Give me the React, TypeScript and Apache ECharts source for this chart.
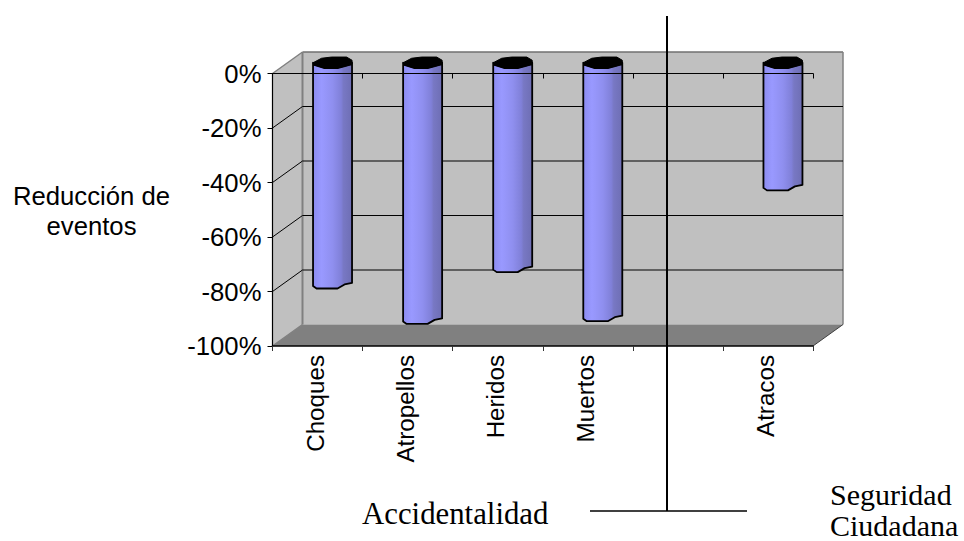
import React, { useEffect, useRef } from "react";
import * as echarts from "echarts";

const categories = ["Choques", "Atropellos", "Heridos", "Muertos", "", "Atracos"];
const reductions = [-81, -94, -75, -93, null, -45];
const yTicks = [0, -20, -40, -60, -80, -100];

// Oblique depth of the 3D box and of a cylinder's centre, in pixels
const DEPTH_X = 30;
const DEPTH_Y = -21.5;
const BAR_HALF = 19.5;

// Cap and base outlines of a cylinder, relative to its axis
const capOutline = [[-19.5, 0], [-11, -4.5], [-1, -5.7], [14, -5.7], [19.5, -2.5], [19.5, 1.5], [5, 5.3], [-8, 5.3], [-19, 2]];
const baseOutline = [[19.5, -0.5], [12, 1], [5, 5], [-16, 5], [-19.5, 2.5]];

function renderBox(params: any) {
  const cs = params.coordSys;
  const left = cs.x;
  const right = cs.x + cs.width;
  const top = cs.y;
  const y1 = cs.y + cs.height;
  const polygon = (points: number[][], fill: string) => ({
    type: "polygon",
    shape: { points },
    style: { fill, stroke: "none" },
  });
  const line = (a: number[], b: number[], stroke: string, lineWidth: number) => ({
    type: "line",
    shape: { x1: a[0], y1: a[1], x2: b[0], y2: b[1] },
    style: { stroke, lineWidth },
  });
  const bx = left + DEPTH_X;
  const br = right + DEPTH_X;
  const bt = top + DEPTH_Y;
  const bb = y1 + DEPTH_Y;
  return {
    type: "group",
    children: [
      polygon([[bx, bt], [br, bt], [br, bb], [bx, bb]], "#c0c0c0"),
      polygon([[left, top], [bx, bt], [bx, bb], [left, y1]], "#c0c0c0"),
      polygon([[left, y1], [bx, bb], [br, bb], [right, y1]], "#808080"),
      line([bx, bt], [br, bt], "#707070", 1.5),
      line([bx, bt], [bx, bb], "#808080", 2),
      line([br, bt], [br, bb], "#808080", 1.5),
      line([left, top], [bx, bt], "#808080", 1.5),
      line([left, y1], [bx, bb], "#808080", 1.5),
      line([right, y1], [br, bb], "#404040", 1),
    ],
  };
}

function renderGridLine(params: any, api: any) {
  const [, y] = api.coord([0, api.value(0)]);
  const cs = params.coordSys;
  const left = cs.x;
  const bx = left + DEPTH_X;
  const br = cs.x + cs.width + DEPTH_X;
  const by = y + DEPTH_Y;
  const inner = api.value(0) > -100 && api.value(0) < 0;
  return {
    type: "group",
    silent: true,
    children: inner
      ? [
          { type: "line", shape: { x1: left, y1: y, x2: bx, y2: by }, style: { stroke: "#000", lineWidth: 1 } },
          { type: "line", shape: { x1: bx, y1: by, x2: br, y2: by }, style: { stroke: "#000", lineWidth: 1 } },
        ]
      : [],
  };
}

function renderCylinder(_: any, api: any) {
  const value = api.value(1);
  if (value === null || value === undefined || isNaN(value)) return { type: "group", children: [] };
  const [cx, y0] = api.coord([api.value(0), 0]);
  const [, yv] = api.coord([api.value(0), value]);
  const x = cx + DEPTH_X / 2;
  const capY = y0 + DEPTH_Y / 2;
  const baseY = yv + DEPTH_Y / 2;
  const body = [
    [x - BAR_HALF, capY],
    ...capOutline.slice(5).map(([dx, dy]) => [x + dx, capY + dy]).reverse(),
    [x + BAR_HALF, capY],
    ...baseOutline.map(([dx, dy]) => [x + dx, baseY + dy]),
  ];
  return {
    type: "group",
    children: [
      {
        type: "polygon",
        shape: { points: body },
        style: {
          fill: new echarts.graphic.LinearGradient(0, 0, 1, 0, [
            { offset: 0, color: "#8c8cf0" },
            { offset: 0.22, color: "#9999ff" },
            { offset: 0.5, color: "#8f8fef" },
            { offset: 0.72, color: "#8080d8" },
            { offset: 0.78, color: "#7878c4" },
            { offset: 1, color: "#6e6eb4" },
          ]),
          stroke: "#000",
          lineWidth: 1.8,
          lineJoin: "round",
        },
      },
      {
        type: "polygon",
        shape: { points: capOutline.map(([dx, dy]) => [x + dx, capY + dy]) },
        style: { fill: "#000", stroke: "#000", lineWidth: 1 },
      },
    ],
  };
}

export default function App() {
  const ref = useRef<HTMLDivElement>(null);

  useEffect(() => {
    const chart = echarts.init(ref.current!, undefined, { renderer: "svg" });
    const sans = "'Liberation Sans', Arial, sans-serif";
    const serif = "'Liberation Serif', 'Times New Roman', serif";
    chart.setOption({
      animation: false,
      backgroundColor: "#ffffff",
      // The second grid only carries the category labels, set slightly left of the ticks' band centres
      grid: [
        { left: 272.5, right: 151, top: 73.5, bottom: 195, containLabel: false },
        { left: 270, right: 153.5, top: 73.5, bottom: 195, containLabel: false },
      ],
      xAxis: [
        {
          type: "category",
          position: "top",
          data: categories,
          z: 6,
          axisLine: { onZero: false, lineStyle: { color: "#000", width: 1.2 } },
          axisTick: { show: true, inside: true, length: 5, alignWithLabel: false, lineStyle: { color: "#000" } },
          axisLabel: { show: false },
          splitLine: { show: false },
        },
        {
          type: "category",
          position: "bottom",
          data: categories,
          z: 6,
          axisLine: { onZero: false, lineStyle: { color: "#000", width: 1.6 } },
          axisTick: { show: true, length: 5, alignWithLabel: false, lineStyle: { color: "#333" } },
          axisLabel: { show: false },
          splitLine: { show: false },
        },
        {
          type: "category",
          gridIndex: 1,
          position: "bottom",
          data: categories,
          axisLine: { show: false, onZero: false },
          axisTick: { show: false },
          axisLabel: {
            show: true,
            rotate: 90,
            interval: 0,
            margin: 9,
            fontFamily: sans,
            fontSize: 24.2,
            color: "#000",
          },
          splitLine: { show: false },
        },
      ],
      yAxis: [
        {
          type: "value",
          min: -100,
          max: 0,
          interval: 20,
          z: 6,
          axisLine: { show: true, onZero: false, lineStyle: { color: "#000", width: 1.2 } },
          axisTick: { show: true, length: 5, lineStyle: { color: "#000" } },
          axisLabel: {
            margin: 11,
            fontFamily: sans,
            fontSize: 25.7,
            color: "#000",
            formatter: (v: number) => `${v}%`,
          },
          splitLine: { show: false },
        },
        {
          type: "value",
          gridIndex: 1,
          min: -100,
          max: 0,
          interval: 20,
          axisLine: { show: false },
          axisTick: { show: false },
          axisLabel: { show: false },
          splitLine: { show: false },
        },
      ],
      series: [
        { type: "custom", z: 1, renderItem: renderBox, data: [[0]], silent: true, clip: false },
        { type: "custom", z: 2, renderItem: renderGridLine, data: yTicks.map((v) => [v]), silent: true, clip: false },
        {
          type: "custom",
          z: 3,
          renderItem: renderCylinder,
          data: reductions.map((v, i) => [i, v]),
          encode: { x: 0, y: 1 },
          silent: true,
          clip: false,
        },
      ],
      graphic: [
        {
          type: "text",
          x: 91.5,
          y: 183,
          style: { text: "Reducción de", fontFamily: sans, fontSize: 25.7, fill: "#000", align: "center", verticalAlign: "top" },
        },
        {
          type: "text",
          x: 91.5,
          y: 213,
          style: { text: "eventos", fontFamily: sans, fontSize: 25.7, fill: "#000", align: "center", verticalAlign: "top" },
        },
        {
          type: "text",
          x: 362,
          y: 498,
          style: { text: "Accidentalidad", fontFamily: serif, fontSize: 30.8, fill: "#000" },
        },
        {
          type: "text",
          x: 830,
          y: 479,
          style: { text: "Seguridad", fontFamily: serif, fontSize: 30, fill: "#000" },
        },
        {
          type: "text",
          x: 830,
          y: 510,
          style: { text: "Ciudadana", fontFamily: serif, fontSize: 30, fill: "#000" },
        },
        {
          type: "line",
          z: 20,
          shape: { x1: 667, y1: 16, x2: 667, y2: 511 },
          style: { stroke: "#000", lineWidth: 2 },
        },
        {
          type: "line",
          z: 20,
          shape: { x1: 590, y1: 511, x2: 747, y2: 511 },
          style: { stroke: "#000", lineWidth: 1.6 },
        },
      ],
    });
    return () => chart.dispose();
  }, []);

  return <div ref={ref} style={{ position: "fixed", left: 0, top: 0, width: 964, height: 541 }} />;
}
